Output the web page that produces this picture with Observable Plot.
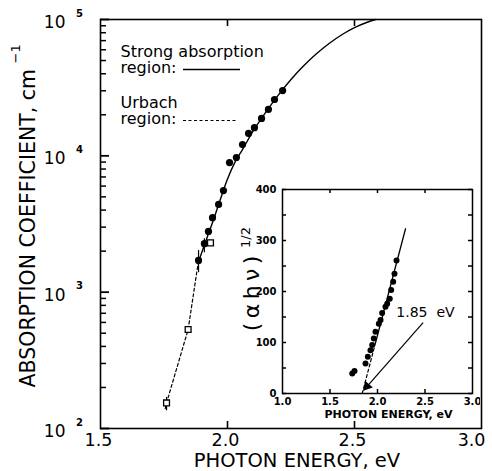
<!DOCTYPE html>
<html><head><meta charset="utf-8">
<script src="https://cdn.jsdelivr.net/npm/d3@7"></script>
<script src="https://cdn.jsdelivr.net/npm/@observablehq/plot@0.6"></script>
<style>
body{margin:0;background:#fff;}
#wrap{position:relative;width:492px;height:471px;overflow:hidden;}
#main{position:absolute;left:0;top:0;}
#axes{position:absolute;left:0;top:0;}
#inset{position:absolute;left:230px;top:180px;}
</style></head><body>
<div id="wrap"><div id="main"></div><div id="axes"></div><div id="inset"></div></div>
<script>
// ---------- main panel data ----------
const strongE     = [1.886,1.909,1.925,1.941,1.965,1.984,2.008,2.035,2.059,2.083,2.106,2.134,2.161,2.185,2.217];
const strongAlpha = [1710,2270,2790,3520,4400,5560,8930,9720,12100,14600,16100,18800,21900,25900,30100];
const urbachE     = [1.760,1.845,1.933];
const urbachAlpha = [154,532,2300];
const curveE      = [1.885,1.91,1.94,1.97,2.00,2.03,2.06,2.10,2.15,2.20,2.25,2.30,2.35,2.40,2.45,2.50,2.55,2.583];
const curveAlpha  = [1660,2240,3200,4680,6760,9020,11200,15100,20800,27900,36300,45700,56000,66700,77300,87100,95500,100000];
const dashE       = [1.755,1.760,1.845,1.886];
const dashAlpha   = [140,154,532,1710];
const errE        = [1.760,1.886,1.909];
const errLo       = [135,1390,1950];
const errHi       = [169,2020,2470];
const xTickLabels = ["1.5","2.0","2.5","3.0"];
const xTicks      = [1.5,2.0,2.5,3.0];
const xInnerTicks = [2.0,2.5];
const yDecades    = [100,1000,10000,100000];
const yExponents  = ["2","3","4","5"];
const legendStrong = "Strong absorption\nregion:";
const legendUrbach = "Urbach\nregion:";

// ---------- inset data ----------
const insetE = [1.734,1.758,1.874,1.898,1.926,1.944,1.961,1.979,2.014,2.032,2.049,2.084,2.102,2.129,2.144,2.165,2.179,2.20];
const insetV = [39,44,59,72,85,95,108,121,137,144,158,170,176,186,203,219,235,261];
const fitDashE = [1.839,1.98], fitDashV = [0,100];
const fitSolidE = [1.98,2.295], fitSolidV = [100,323];
const insetXTicks = [1.0,1.5,2.0,2.5,3.0];
const insetXInner = [1.5,2.0,2.5];
const insetYTicks = [0,100,200,300,400];
const insetYMinor = [0,50,100,150,200,250,300,350,400];
const gapLabel = "1.85  eV";
const gapArrow = {x1:2.48, y1:139, x2:1.856, y2:6.5};
const gapHead = {x:1.89, y:14};
const gapLabelPos = {x:2.505, y:158};

const strong = strongE.map((e,i)=>({e, a:strongAlpha[i]}));
const urbach = urbachE.map((e,i)=>({e, a:urbachAlpha[i]}));
const curve  = curveE.map((e,i)=>({e, a:curveAlpha[i]}));
const dash   = dashE.map((e,i)=>({e, a:dashAlpha[i]}));
const errs   = errE.map((e,i)=>({e, lo:errLo[i], hi:errHi[i]}));
const yMinor = [];
for (const d of yDecades.slice(0,-1)) for (let k=2;k<=9;k++) yMinor.push(d*k);

const FONT = "DejaVu Sans";
const W=492,H=471,mL=100,mR=11,mT=19,mB=43;
const pw=W-mL-mR, ph=H-mT-mB;
const xD=[1.5,3.0], yD=[100,100000];
const xPx = px => px*(xD[1]-xD[0])/pw;
const yFac = px => Math.pow(10, px*3/ph);

const main = Plot.plot({
  width:W, height:H, marginLeft:mL, marginRight:mR, marginTop:mT, marginBottom:mB,
  x:{domain:xD, axis:null},
  y:{type:"log", domain:yD, axis:null},
  style:{fontFamily:FONT, background:"white", color:"black"},
  marks:[
    Plot.text(yDecades, {y:d=>d, frameAnchor:"left", dx:-35, dy:3, textAnchor:"end", lineAnchor:"middle", text:()=> "10", fontSize:17, fill:"black"}),
    Plot.text(yDecades, {y:d=>d, frameAnchor:"left", dx:-21, dy:-6, textAnchor:"middle", lineAnchor:"middle", text:(d,i)=>yExponents[i], fontSize:10, fontWeight:"bold", fill:"black"}),
    Plot.text(xTicks.slice(0,3), {x:d=>d, frameAnchor:"bottom", dy:17, dx:-2, textAnchor:"middle", lineAnchor:"bottom", text:(d,i)=>xTickLabels[i], fontSize:17.5, fill:"black"}),
    Plot.text(xTicks.slice(3), {x:d=>d, frameAnchor:"bottom", dy:17, dx:4, textAnchor:"end", lineAnchor:"bottom", text:()=>xTickLabels[3], fontSize:17.5, fill:"black"}),
    Plot.text(["PHOTON ENERGY, eV"], {frameAnchor:"bottom", dx:6, dy:38, textAnchor:"middle", lineAnchor:"bottom", fontSize:19.5, fill:"black"}),
    Plot.text(["ABSORPTION COEFFICIENT, cm"], {frameAnchor:"bottom-left", dx:-72.5, dy:-41, rotate:-90, textAnchor:"start", lineAnchor:"middle", fontSize:20.5, fill:"black"}),
    Plot.text(["\u22121"], {frameAnchor:"top-left", dx:-85, dy:44, rotate:-90, textAnchor:"start", lineAnchor:"middle", fontSize:13, fill:"black"}),
    // legend
    Plot.text([legendStrong], {frameAnchor:"top-left", dx:20, dy:53, textAnchor:"start", lineAnchor:"bottom", lineHeight:0.94, fontSize:16, fill:"black"}),
    Plot.text([legendUrbach], {frameAnchor:"top-left", dx:20, dy:104, textAnchor:"start", lineAnchor:"bottom", lineHeight:0.94, fontSize:16, fill:"black"}),
    Plot.tickY([yD[1]], {y:d=>d, dy:50, insetLeft:83, insetRight:241, stroke:"black", strokeWidth:1.3}),
    Plot.tickY([yD[1]], {y:d=>d, dy:101, insetLeft:83, insetRight:245, stroke:"black", strokeWidth:1.2, strokeDasharray:"3,2.5"}),
    // data
    Plot.line(curve, {x:"e", y:"a", stroke:"black", strokeWidth:1.4, curve:"monotone-x"}),
    Plot.line(dash, {x:"e", y:"a", stroke:"black", strokeWidth:1.2, strokeDasharray:"3,2.5"}),
    Plot.ruleX(errs, {x:"e", y1:"lo", y2:"hi", stroke:"black", strokeWidth:1.2}),
    Plot.dot(strong, {x:"e", y:"a", r:3.6, fill:"black", stroke:"none"}),
    Plot.dot(urbach, {x:"e", y:"a", symbol:"square", r:3.3, fill:"white", stroke:"black", strokeWidth:1.3})
  ]
});
document.getElementById("main").appendChild(main);

// frame and inward ticks of the main panel, drawn as a layer on top
const axes = Plot.plot({
  width:W, height:H, marginLeft:mL, marginRight:mR, marginTop:mT, marginBottom:mB,
  x:{domain:xD, axis:null},
  y:{type:"log", domain:yD, axis:null},
  style:{background:"transparent", color:"black"},
  marks:[
    Plot.frame({stroke:"black", strokeWidth:1.6}),
    Plot.ruleY(yDecades, {y:d=>d, x1:xD[0], x2:xD[0]+xPx(9), stroke:"black", strokeWidth:1.8}),
    Plot.ruleY(yMinor, {y:d=>d, x1:xD[0], x2:xD[0]+xPx(6), stroke:"black", strokeWidth:1.5}),
    Plot.ruleX(xInnerTicks, {x:d=>d, y1:yD[0], y2:yD[0]*yFac(7), stroke:"black", strokeWidth:1.6}),
    Plot.ruleX(xInnerTicks, {x:d=>d, y1:yD[1]/yFac(7), y2:yD[1], stroke:"black", strokeWidth:1.6})
  ]
});
document.getElementById("axes").appendChild(axes);

// ---------- inset ----------
const IW=250, IH=245, imL=52, imR=8, imT=9, imB=32;
const ipw=IW-imL-imR, iph=IH-imT-imB;
const ixD=[1,3], iyD=[0,400];
const ixPx = px => px*(ixD[1]-ixD[0])/ipw;
const iyPx = px => px*(iyD[1]-iyD[0])/iph;
const inset = Plot.plot({
  width:IW, height:IH, marginLeft:imL, marginRight:imR, marginTop:imT, marginBottom:imB,
  x:{domain:ixD, axis:null},
  y:{domain:iyD, axis:null},
  style:{fontFamily:FONT, background:"transparent", color:"black"},
  marks:[
    Plot.text(insetYTicks, {y:d=>d, frameAnchor:"left", dx:-6, textAnchor:"end", lineAnchor:"middle", text:d=>String(d), fontSize:10, fontWeight:"bold", fill:"black"}),
    Plot.text(insetXTicks, {x:d=>d, frameAnchor:"bottom", dy:11, textAnchor:"middle", lineAnchor:"bottom", text:d=>d.toFixed(1), fontSize:10, fontWeight:"bold", fill:"black"}),
    Plot.text(["PHOTON ENERGY, eV"], {frameAnchor:"bottom", dx:11, dy:24, textAnchor:"middle", lineAnchor:"bottom", fontSize:11, fontWeight:"bold", fill:"black"}),
    Plot.text(["(\u2009\u03b1\u2009h\u2009\u03bd\u2009)"], {frameAnchor:"left", dx:-31, dy:2, rotate:-90, textAnchor:"middle", lineAnchor:"middle", fontSize:22, fill:"black"}),
    Plot.text(["1/2"], {frameAnchor:"left", dx:-37, dy:-54, rotate:-90, textAnchor:"middle", lineAnchor:"middle", fontSize:13, fill:"black"}),
    Plot.line(fitDashE.map((e,i)=>({e, v:fitDashV[i]})), {x:"e", y:"v", stroke:"black", strokeWidth:1.2, strokeDasharray:"3,2.5"}),
    Plot.line(fitSolidE.map((e,i)=>({e, v:fitSolidV[i]})), {x:"e", y:"v", stroke:"black", strokeWidth:1.3}),
    Plot.dot(insetE.map((e,i)=>({e, v:insetV[i]})), {x:"e", y:"v", r:3, fill:"black", stroke:"none"}),
    Plot.link([gapArrow], {x1:"x1", y1:"y1", x2:"x2", y2:"y2", stroke:"black", strokeWidth:1.2}),
    Plot.dot([gapHead], {x:"x", y:"y", symbol:"triangle", r:3.8, rotate:221, fill:"black", stroke:"none"}),
    Plot.text([gapLabelPos], {x:"x", y:"y", text:()=>gapLabel, fontSize:14, fill:"black"}),
    Plot.frame({stroke:"black", strokeWidth:1.5}),
    Plot.ruleY(insetYMinor, {y:d=>d, x1:ixD[0], x2:ixD[0]+ixPx(4), stroke:"black", strokeWidth:1.5}),
    Plot.ruleY(insetYMinor, {y:d=>d, x1:ixD[1]-ixPx(4), x2:ixD[1], stroke:"black", strokeWidth:1.5}),
    Plot.ruleX(insetXInner, {x:d=>d, y1:iyD[0], y2:iyD[0]+iyPx(4), stroke:"black", strokeWidth:1.5}),
    Plot.ruleX(insetXInner, {x:d=>d, y1:iyD[1]-iyPx(4), y2:iyD[1], stroke:"black", strokeWidth:1.5})
  ]
});
document.getElementById("inset").appendChild(inset);
</script>
</body></html>
